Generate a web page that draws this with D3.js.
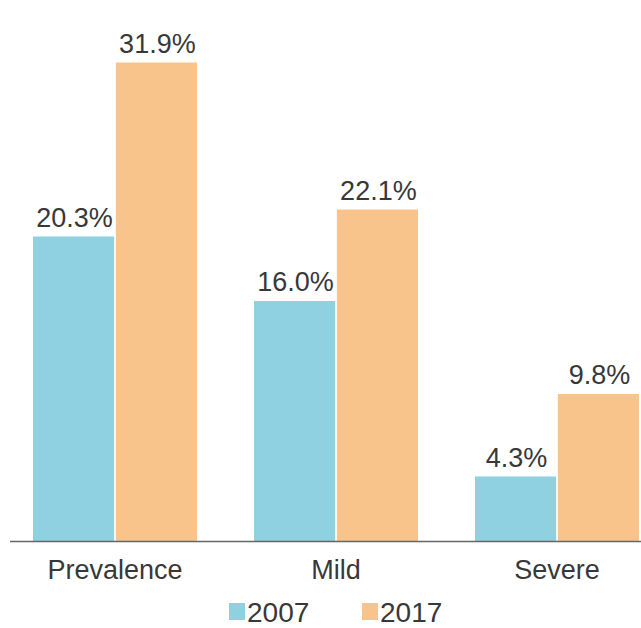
<!DOCTYPE html>
<html>
<head>
  <style>
    body { margin: 0; background: #fff; font-family: "Liberation Sans", Arial, sans-serif; }
  </style>
</head>
<body>
  <svg id="chart"></svg>
  <script src="https://d3js.org/d3.v7.min.js"></script>
  <script>
    // data
    const categories = ["Prevalence", "Mild", "Severe"];
    const years = ["2007", "2017"];
    const values2007 = [20.3, 16.0, 4.3];
    const values2017 = [31.9, 22.1, 9.8];

    const width = 641, height = 628;
    const baseline = 541;
    const colors = { "2007": "#8fd0e1", "2017": "#f9c48b" };
    const textColor = "#383838";

    const rows = categories.map((c, i) => ({
      category: c,
      values: [{ year: "2007", value: values2007[i] }, { year: "2017", value: values2017[i] }]
    }));

    const svg = d3.select("#chart")
      .attr("width", width)
      .attr("height", height);

    const x = d3.scaleBand()
      .domain(categories)
      .range([4.5, 667.5])
      .paddingInner(0.258)
      .paddingOuter(0.129);

    const xInner = d3.scaleBand()
      .domain(years)
      .range([0, x.bandwidth()])
      .paddingInner(0.02);

    const y = d3.scaleLinear()
      .domain([0, 35])
      .range([baseline, baseline - 35 * 15]);

    const groups = svg.append("g")
      .selectAll("g")
      .data(rows)
      .join("g")
      .attr("transform", d => `translate(${x(d.category)},0)`);

    groups.selectAll("rect")
      .data(d => d.values)
      .join("rect")
      .attr("x", d => xInner(d.year))
      .attr("y", d => y(d.value))
      .attr("width", xInner.bandwidth())
      .attr("height", d => y(0) - y(d.value))
      .attr("fill", d => colors[d.year]);

    groups.selectAll("text")
      .data(d => d.values)
      .join("text")
      .attr("x", d => xInner(d.year) + xInner.bandwidth() / 2 + 1)
      .attr("y", d => y(d.value) - 10)
      .attr("text-anchor", "middle")
      .attr("font-size", 27)
      .attr("fill", textColor)
      .text(d => d.value.toFixed(1) + "%");

    // axis line + category labels
    svg.append("line")
      .attr("x1", 10).attr("x2", width)
      .attr("y1", baseline + 0.5).attr("y2", baseline + 0.5)
      .attr("stroke", "#666")
      .attr("stroke-width", 1.5);

    svg.append("g")
      .selectAll("text")
      .data(categories)
      .join("text")
      .attr("x", d => x(d) + x.bandwidth() / 2)
      .attr("y", 579)
      .attr("text-anchor", "middle")
      .attr("font-size", 27)
      .attr("fill", textColor)
      .text(d => d);

    // legend
    const legend = svg.append("g")
      .selectAll("g")
      .data(years)
      .join("g")
      .attr("transform", (d, i) => `translate(${229 + i * 133},0)`);

    legend.append("rect")
      .attr("x", 0).attr("y", 603)
      .attr("width", 16).attr("height", 17)
      .attr("fill", d => colors[d]);

    legend.append("text")
      .attr("x", 18)
      .attr("y", 622)
      .attr("font-size", 28)
      .attr("fill", textColor)
      .text(d => d);
  </script>
</body>
</html>
